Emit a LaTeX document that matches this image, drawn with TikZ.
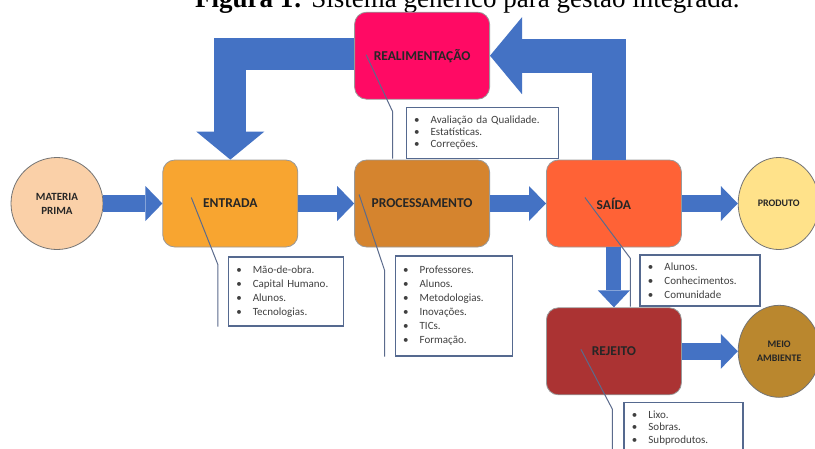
\documentclass[tikz,border=0pt]{standalone}
\usepackage{fontspec}
\setmainfont{Carlito}
\newfontfamily\titlefont{Liberation Serif}
\usetikzlibrary{positioning, arrows.meta, shapes.geometric}

\definecolor{flowblue}{HTML}{4472C4}
\definecolor{notegray}{HTML}{55698F}
\definecolor{calloutgray}{HTML}{5B6B8C}
\definecolor{realimcol}{HTML}{FF0A64}
\definecolor{entradacol}{HTML}{F8A530}
\definecolor{proccol}{HTML}{D5842E}
\definecolor{saidacol}{HTML}{FF6236}
\definecolor{rejeitocol}{HTML}{AB3333}
\definecolor{materiacol}{HTML}{FAD0A8}
\definecolor{produtocol}{HTML}{FFE28A}
\definecolor{meiocol}{HTML}{BA872E}

\newcommand{\itm}{\textbullet\hspace{11pt}}

\begin{document}
\begin{tikzpicture}[x=1pt, y=-1pt,
    % Styles
    stage/.style={rectangle, draw=black!40, line width=0.8pt, rounded corners=12pt,
            minimum width=135pt, minimum height=87pt, align=center,
            font=\fontsize{13.5}{16}\selectfont\bfseries, text=black!85},
    pole/.style={ellipse, draw=black!55, line width=0.8pt, inner sep=0pt, align=center,
            font=\fontsize{11}{14}\selectfont\bfseries, text=black!85},
    note/.style={rectangle, draw=notegray, line width=1.1pt, fill=white, align=left,
            inner xsep=8pt, font=\fontsize{11}{14}\selectfont, text=black!75},
    flow/.style={draw=flowblue, line width=17pt,
            -{Triangle[length=17pt, width=35pt, line width=0pt]}},
    callout/.style={draw=calloutgray, line width=1pt},
  ]

  \fill[white] (0,0) rectangle (815,448);
  \useasboundingbox (0,0) rectangle (815,448);

  % === TITLE ===
  \node[anchor=base west, inner sep=0pt, font=\titlefont\fontsize{27}{30}\selectfont] (title)
    at (195,7) {\textbf{Figura 1:} Sistema genérico para gestão integrada.};

  % === MAIN ROW ===
  \node[pole, fill=materiacol, minimum width=92pt, minimum height=92pt] (materia) at (57,203.5) {MATERIA\\PRIMA};
  \node[stage, fill=entradacol, right=59pt of materia] (entrada) {ENTRADA};
  \node[stage, fill=proccol, right=56pt of entrada] (proc) {PROCESSAMENTO};
  \node[stage, fill=saidacol, right=56pt of proc] (saida) {SAÍDA};
  \node[pole, fill=produtocol, minimum width=81pt, minimum height=92pt, font=\fontsize{10}{12}\selectfont\bfseries,
    right=56pt of saida] (produto) {PRODUTO};

  % === FEEDBACK AND REJECT ===
  \node[stage, fill=realimcol, above=60pt of proc] (realim) {REALIMENTAÇÃO};
  \node[stage, fill=rejeitocol, below=60pt of saida] (rejeito) {REJEITO};
  \node[pole, fill=meiocol, minimum width=82pt, minimum height=92pt, font=\fontsize{10}{14}\selectfont\bfseries,
    right=56pt of rejeito] (meio) {MEIO\\AMBIENTE};

  % === CONNECTIONS ===
  \draw[flow] (materia) -- (entrada);
  \draw[flow] (entrada) -- (proc);
  \draw[flow] (proc) -- (saida);
  \draw[flow] (saida) -- (produto);
  \draw[flow] (rejeito) -- (meio);
  \draw[flow, line width=15pt, -{Triangle[length=17pt, width=32pt, line width=0pt]}] (saida) -- (rejeito);

  % Feedback loop
  \draw[draw=flowblue, line width=34pt, line join=miter,
    -{Triangle[length=32pt, width=77pt, line width=0pt]}]
    ([xshift=-5pt]saida.north) |- (realim.east);
  \draw[draw=flowblue, line width=32pt, line join=miter,
    -{Triangle[length=28pt, width=68pt, line width=0pt]}]
    ([yshift=2pt]realim.west) -| (entrada.north);

  % === NOTES ===
  \node[note, text width=136pt, minimum height=51pt, font=\fontsize{11}{12}\selectfont,
    below right=7pt and -16.5pt of realim.south] (nrealim)
    {\itm Avaliação da Qualidade.\\\itm Estatísticas.\\\itm Correções.};
  \node[note, text width=99pt, minimum height=69pt,
    below right=9pt and -2.5pt of entrada.south] (nentrada)
    {\itm Mão-de-obra.\\\itm Capital Humano.\\\itm Alunos.\\\itm Tecnologias.};
  \node[note, text width=101pt, minimum height=100pt,
    below right=8pt and -27.5pt of proc.south] (nproc)
    {\itm Professores.\\\itm Alunos.\\\itm Metodologias.\\\itm Inovações.\\\itm TICs.\\\itm Formação.};
  \node[note, text width=104pt, minimum height=51pt,
    below right=7pt and 25.5pt of saida.south] (nsaida)
    {\itm Alunos.\\\itm Conhecimentos.\\\itm Comunidade};
  \node[note, text width=103pt, minimum height=50pt, font=\fontsize{11}{12.5}\selectfont,
    below right=7pt and 9.5pt of rejeito.south] (nrejeito)
    {\itm Lixo.\\\itm Sobras.\\\itm Subprodutos.};

  % Callout leaders
  \draw[callout] ([shift={(-56pt,1pt)}]realim.center) -- ([shift={(-13pt,-5pt)}]nrealim.north west) -- ([xshift=-13pt]nrealim.south west);
  \draw[callout] ([shift={(-39pt,6pt)}]entrada.center) -- ([shift={(-10pt,-8pt)}]nentrada.north west) -- ([xshift=-10pt]nentrada.south west);
  \draw[callout] ([shift={(-63pt,9pt)}]proc.center) -- ([shift={(-10pt,-15pt)}]nproc.north west) -- ([xshift=-10pt]nproc.south west);
  \draw[callout] ([shift={(-29pt,6pt)}]saida.center) -- ([shift={(-9pt,-4pt)}]nsaida.north west) -- ([xshift=-9pt]nsaida.south west);
  \draw[callout] ([shift={(-33pt,2pt)}]rejeito.center) -- ([shift={(-11pt,-7pt)}]nrejeito.north west) -- ([xshift=-11pt]nrejeito.south west);

\end{tikzpicture}
\end{document}
